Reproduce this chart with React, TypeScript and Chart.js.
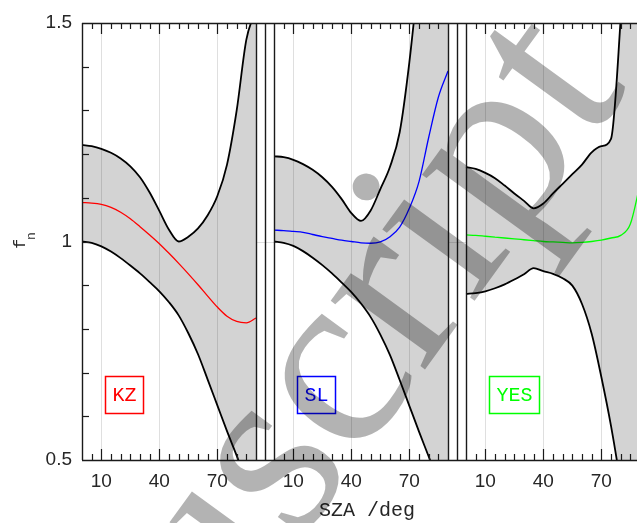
import React, { useEffect, useRef } from 'react';
import { Chart, registerables } from 'chart.js';
Chart.register(...registerables);

// ---------- data ----------
const SZA = [0, 5, 10, 15, 20, 25, 30, 35, 40, 45, 50, 55, 60, 65, 70, 75, 80, 85, 90];

const KZ_UPPER = [1.221, 1.218, 1.212, 1.203, 1.19, 1.172, 1.147, 1.112, 1.07, 1.027, 1.0, 1.011, 1.03, 1.06, 1.104, 1.176, 1.3, 1.462, 1.53];
const KZ_MID = [1.089, 1.088, 1.085, 1.078, 1.067, 1.052, 1.034, 1.015, 0.995, 0.973, 0.95, 0.926, 0.901, 0.875, 0.85, 0.829, 0.817, 0.814, 0.825];
const KZ_LOWER = [1.0, 0.997, 0.989, 0.977, 0.962, 0.945, 0.927, 0.907, 0.886, 0.861, 0.831, 0.79, 0.742, 0.684, 0.625, 0.566, 0.51, 0.45, 0.39];

const SL_UPPER = [1.195, 1.193, 1.187, 1.177, 1.164, 1.147, 1.125, 1.097, 1.065, 1.047, 1.071, 1.12, 1.171, 1.25, 1.41, 1.62, 1.85, 2.05, 2.25];
const SL_MID = [1.026, 1.025, 1.023, 1.021, 1.016, 1.011, 1.007, 1.003, 1.0, 0.997, 0.996, 0.999, 1.011, 1.033, 1.076, 1.137, 1.238, 1.33, 1.39];
const SL_LOWER = [1.0, 0.997, 0.99, 0.978, 0.963, 0.946, 0.927, 0.906, 0.884, 0.858, 0.827, 0.787, 0.74, 0.683, 0.624, 0.565, 0.508, 0.45, 0.39];

const YES_UPPER = [1.17, 1.166, 1.157, 1.145, 1.128, 1.11, 1.093, 1.076, 1.087, 1.11, 1.132, 1.154, 1.176, 1.204, 1.218, 1.235, 1.51, 1.9, 2.3];
const YES_MID = [1.015, 1.014, 1.012, 1.01, 1.008, 1.006, 1.004, 1.002, 1.0, 0.999, 0.998, 0.997, 0.998, 1.0, 1.003, 1.008, 1.014, 1.04, 1.13];
const YES_LOWER = [0.88, 0.882, 0.886, 0.893, 0.902, 0.913, 0.925, 0.939, 0.932, 0.926, 0.916, 0.899, 0.857, 0.789, 0.69, 0.578, 0.443, 0.28, 0.12];

const PANEL_NAMES = ['KZ', 'SL', 'YES'];
const UPPERS = [KZ_UPPER, SL_UPPER, YES_UPPER];
const MIDS = [KZ_MID, SL_MID, YES_MID];
const LOWERS = [KZ_LOWER, SL_LOWER, YES_LOWER];

const X_TICKS = [10, 40, 70];
const Y_TICKS = [0.5, 1, 1.5];
const LABEL_POS = { x: 12, y: 0.65 };

// ---------- layout / style constants ----------
const PANEL_COLORS = ['#ff0000', '#0000ff', '#00ff00'];
const PANEL_OFFSET = [0, 99.3, 198.6];
const PANEL_SPAN = 90;
const STRIP_MID = 94.5;
const X_MAX = 294.8;
const CANVAS_W = 680;
const CANVAS_H = 523;
const AREA_LEFT = 82;
const AREA_RIGHT = 652;
const AREA_TOP = 23;
const AREA_BOTTOM = 460;
const FILL = '#d3d3d3';
const AXIS = '#1a1a1a';
const TEXT = '#262626';
const GRID = 'rgba(38,38,38,0.15)';

const WM = { text: 'Manuscript', size: 254, angle: -54, dotX: 360, dotY: 182 };

function panelOf(v: number) {
  let p = 0;
  PANEL_OFFSET.forEach((o) => {
    if (v >= o - 2) p = o;
  });
  return p;
}

const panelPlugin = {
  id: 'panels',
  beforeDraw(chart: any) {
    const c = chart.ctx;
    c.save();
    c.fillStyle = '#ffffff';
    c.fillRect(0, 0, chart.width, chart.height);
    c.restore();
  },
  beforeDatasetsDraw(chart: any) {
    const c = chart.ctx;
    const xs = chart.scales.x;
    const ys = chart.scales.y;
    const a = chart.chartArea;
    c.save();
    c.beginPath();
    c.rect(a.left, a.top, a.right - a.left, a.bottom - a.top);
    c.clip();
    c.strokeStyle = GRID;
    c.lineWidth = 1;
    PANEL_OFFSET.forEach((o) => {
      X_TICKS.forEach((t) => {
        const px = Math.round(xs.getPixelForValue(o + t)) + 0.5;
        c.beginPath();
        c.moveTo(px, a.top);
        c.lineTo(px, a.bottom);
        c.stroke();
      });
      const py = Math.round(ys.getPixelForValue(1)) + 0.5;
      c.beginPath();
      c.moveTo(xs.getPixelForValue(o + PANEL_SPAN), py);
      c.lineTo(xs.getPixelForValue(o + 99.3), py);
      c.stroke();
    });
    c.restore();
  },
  afterDatasetsDraw(chart: any) {
    const c = chart.ctx;
    const xs = chart.scales.x;
    const ys = chart.scales.y;
    const a = chart.chartArea;
    c.save();
    c.strokeStyle = AXIS;
    c.lineWidth = 1.4;
    c.beginPath();
    c.moveTo(a.left, a.top + 0.5);
    c.lineTo(a.right, a.top + 0.5);
    c.moveTo(a.left, a.bottom + 0.5);
    c.lineTo(a.right, a.bottom + 0.5);
    c.stroke();
    PANEL_OFFSET.forEach((o) => {
      [o, o + PANEL_SPAN, o + STRIP_MID].forEach((v) => {
        const px = Math.round(xs.getPixelForValue(v)) + 0.5;
        c.beginPath();
        c.moveTo(px, a.top);
        c.lineTo(px, a.bottom);
        c.stroke();
      });
    });
    c.lineWidth = 1.2;
    PANEL_OFFSET.forEach((o) => {
      for (let d = 5; d < PANEL_SPAN; d += 5) {
        const major = X_TICKS.indexOf(d) >= 0;
        const len = major ? 11 : 6;
        const px = Math.round(xs.getPixelForValue(o + d)) + 0.5;
        c.beginPath();
        c.moveTo(px, a.bottom);
        c.lineTo(px, a.bottom - len);
        c.moveTo(px, a.top);
        c.lineTo(px, a.top + len);
        c.stroke();
      }
    });
    for (let k = 6; k <= 14; k++) {
      const py = Math.round(ys.getPixelForValue(k / 10)) + 0.5;
      c.beginPath();
      c.moveTo(a.left, py);
      c.lineTo(a.left + 7, py);
      c.stroke();
    }
    c.font = '20px "Liberation Mono", "DejaVu Sans Mono", monospace';
    c.textBaseline = 'middle';
    c.textAlign = 'left';
    PANEL_NAMES.forEach((name, i) => {
      const tw = c.measureText(name).width;
      const pad = 7;
      const bx = Math.round(xs.getPixelForValue(PANEL_OFFSET[i] + LABEL_POS.x)) + 0.5;
      const cy = ys.getPixelForValue(LABEL_POS.y);
      const bh = 37;
      const by = Math.round(cy - bh / 2) + 0.5;
      c.strokeStyle = PANEL_COLORS[i];
      c.lineWidth = 1.5;
      c.strokeRect(bx, by, tw + 2 * pad, bh);
      c.fillStyle = PANEL_COLORS[i];
      c.fillText(name, bx + pad, cy + 1);
    });
    c.fillStyle = TEXT;
    c.save();
    c.translate(25, 249);
    c.rotate(-Math.PI / 2);
    c.textBaseline = 'alphabetic';
    c.font = '17px "Liberation Mono", "DejaVu Sans Mono", monospace';
    c.fillText('f', 0, 0);
    c.font = '13px "Liberation Mono", "DejaVu Sans Mono", monospace';
    c.fillText('n', 9, 10);
    c.restore();
    c.restore();
  },
  afterDraw(chart: any) {
    const c = chart.ctx;
    c.save();
    c.globalCompositeOperation = 'multiply';
    c.fillStyle = '#b3b3b3';
    c.font = `${WM.size}px "Liberation Serif", "DejaVu Serif", serif`;
    c.textBaseline = 'alphabetic';
    c.textAlign = 'left';
    const th = (WM.angle * Math.PI) / 180;
    const pre = c.measureText('Manuscr').width;
    const iw = c.measureText('i').width;
    const tx = pre + iw * 0.48;
    const ty = -0.64 * WM.size;
    const ox = WM.dotX - (tx * Math.cos(th) - ty * Math.sin(th));
    const oy = WM.dotY - (tx * Math.sin(th) + ty * Math.cos(th));
    c.translate(ox, oy);
    c.rotate(th);
    c.fillText(WM.text, 0, 0);
    c.restore();
  },
};

export default function App() {
  const ref = useRef<HTMLCanvasElement | null>(null);
  useEffect(() => {
    if (!ref.current) return;
    const datasets: any[] = [];
    PANEL_NAMES.forEach((name, i) => {
      const o = PANEL_OFFSET[i];
      const pts = (arr: number[]) => SZA.map((x, k) => ({ x: x + o, y: arr[k] }));
      datasets.push({
        label: name,
        data: pts(MIDS[i]),
        borderColor: PANEL_COLORS[i],
        borderWidth: 1.3,
        fill: false,
      });
      datasets.push({
        label: name + ' upper',
        data: pts(UPPERS[i]),
        borderColor: '#000000',
        borderWidth: 1.8,
        fill: false,
      });
      datasets.push({
        label: name + ' lower',
        data: pts(LOWERS[i]),
        borderColor: '#000000',
        borderWidth: 1.8,
        backgroundColor: FILL,
        fill: '-1',
      });
    });
    const chart = new Chart(ref.current, {
      type: 'line',
      data: { datasets },
      options: {
        animation: false,
        responsive: false,
        devicePixelRatio: 1,
        layout: {
          padding: { left: 0, right: CANVAS_W - AREA_RIGHT, top: AREA_TOP, bottom: 0 },
        },
        elements: {
          point: { radius: 0 },
          line: { cubicInterpolationMode: 'monotone' },
        },
        plugins: {
          legend: { display: false },
          tooltip: { enabled: false },
          filler: { drawTime: 'beforeDatasetsDraw' },
        },
        scales: {
          x: {
            type: 'linear',
            min: 0,
            max: X_MAX,
            afterBuildTicks: (s: any) => {
              const t: any[] = [];
              PANEL_OFFSET.forEach((o) => X_TICKS.forEach((v) => t.push({ value: o + v })));
              s.ticks = t;
            },
            afterFit: (s: any) => {
              s.height = CANVAS_H - AREA_BOTTOM;
            },
            grid: { display: false, drawTicks: false },
            border: { display: false },
            ticks: {
              autoSkip: false,
              maxRotation: 0,
              padding: 10,
              color: TEXT,
              font: { family: '"Liberation Sans", Arial, sans-serif', size: 19 },
              callback: (v: any) => String(Math.round(Number(v) - panelOf(Number(v)))),
            },
            title: {
              display: true,
              text: 'SZA /deg',
              color: TEXT,
              font: { family: '"Liberation Mono", "DejaVu Sans Mono", monospace', size: 20 },
              padding: { top: 0, bottom: 0 },
            },
          },
          y: {
            type: 'linear',
            min: 0.5,
            max: 1.5,
            afterBuildTicks: (s: any) => {
              s.ticks = Y_TICKS.map((v) => ({ value: v }));
            },
            afterFit: (s: any) => {
              s.width = AREA_LEFT;
            },
            grid: { display: false, drawTicks: false },
            border: { display: false },
            ticks: {
              padding: 10,
              color: TEXT,
              font: { family: '"Liberation Sans", Arial, sans-serif', size: 19 },
              callback: (v: any) => String(v),
            },
          },
        },
      } as any,
      plugins: [panelPlugin],
    });
    return () => chart.destroy();
  }, []);
  return (
    <div style={{ position: 'fixed', left: 0, top: 0, width: 637, height: 523, overflow: 'hidden', background: '#fff' }}>
      <canvas ref={ref} width={CANVAS_W} height={CANVAS_H} style={{ display: 'block' }} />
    </div>
  );
}
